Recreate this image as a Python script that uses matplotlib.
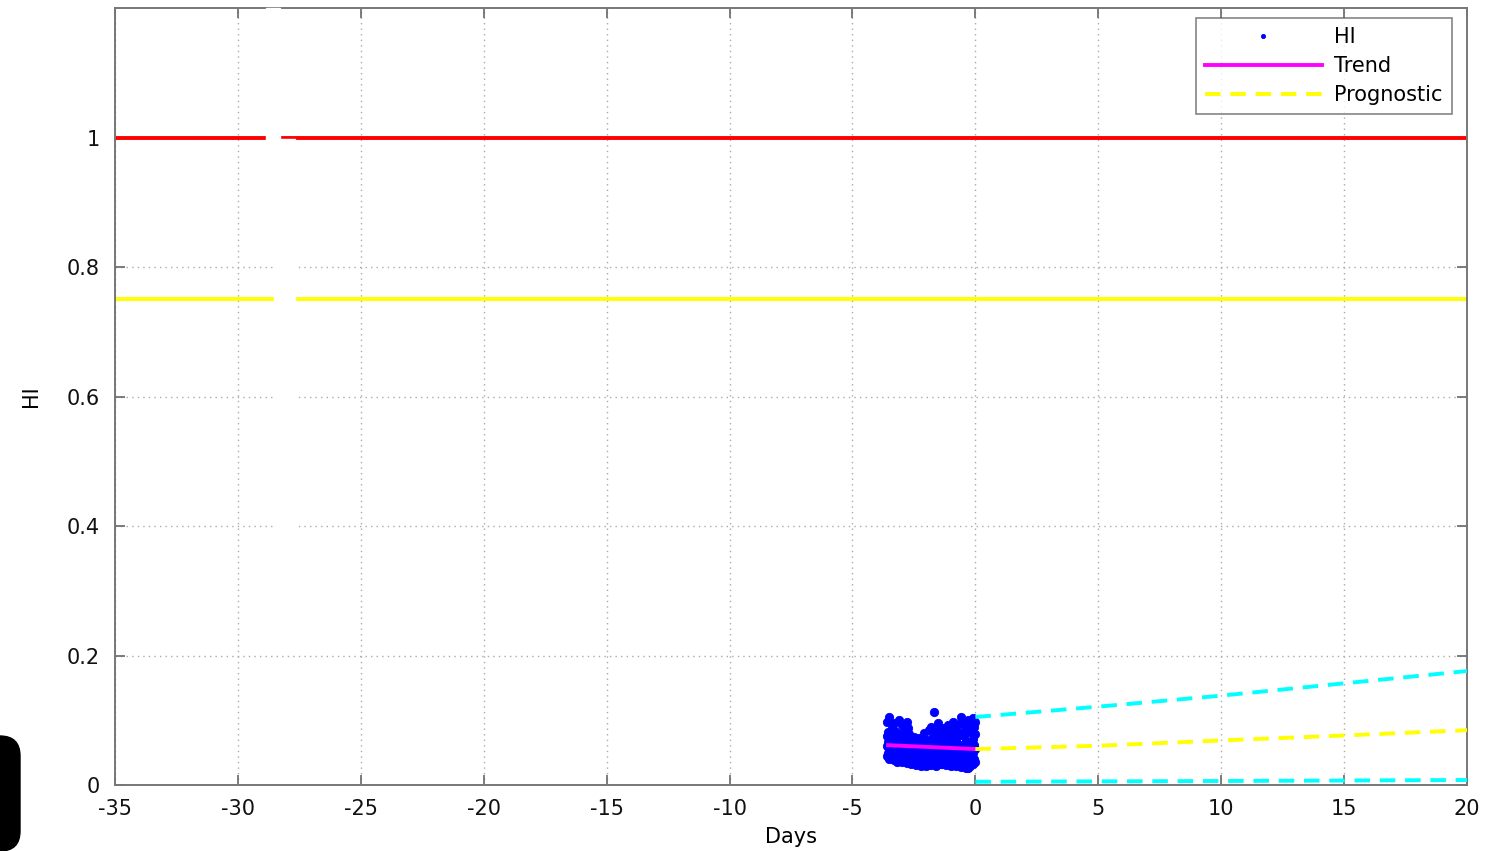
import numpy as np
import matplotlib
matplotlib.use("Agg")
import matplotlib.pyplot as plt
from matplotlib.patches import Rectangle, FancyBboxPatch

plt.rcParams['font.family'] = ['DejaVu Sans']

# ---- data ----
hi_cols_x = [-3.6, -3.5, -3.4, -3.3, -3.2, -3.1, -3.0, -2.9, -2.8, -2.7, -2.6, -2.5,
             -2.4, -2.3, -2.2, -2.1, -2.0, -1.9, -1.8, -1.7, -1.6, -1.5, -1.4, -1.3,
             -1.2, -1.1, -1.0, -0.9, -0.8, -0.7, -0.6, -0.5, -0.4, -0.3, -0.2, -0.1, 0.0]
hi_cols_y = [
    [0.045, 0.060, 0.075, 0.098], [0.040, 0.055, 0.070, 0.105], [0.042, 0.052, 0.066, 0.088],
    [0.038, 0.058, 0.072, 0.095], [0.036, 0.048, 0.063, 0.080], [0.040, 0.054, 0.068, 0.100],
    [0.035, 0.050, 0.061, 0.092], [0.037, 0.046, 0.058, 0.085], [0.034, 0.052, 0.065, 0.098],
    [0.040, 0.049, 0.060, 0.078], [0.033, 0.045, 0.057, 0.070], [0.036, 0.051, 0.062, 0.074],
    [0.031, 0.044, 0.055, 0.068], [0.035, 0.048, 0.059, 0.072], [0.030, 0.042, 0.053, 0.066],
    [0.033, 0.047, 0.060, 0.080], [0.029, 0.041, 0.056, 0.070], [0.034, 0.045, 0.058, 0.085],
    [0.031, 0.043, 0.054, 0.090], [0.033, 0.049, 0.061, 0.112], [0.030, 0.040, 0.057, 0.078],
    [0.035, 0.046, 0.055, 0.095], [0.032, 0.044, 0.062, 0.082], [0.036, 0.050, 0.059, 0.088],
    [0.031, 0.042, 0.056, 0.075], [0.034, 0.047, 0.063, 0.092], [0.030, 0.045, 0.058, 0.085],
    [0.033, 0.041, 0.060, 0.098], [0.029, 0.048, 0.066, 0.090], [0.032, 0.043, 0.057, 0.080],
    [0.028, 0.046, 0.062, 0.105], [0.031, 0.040, 0.055, 0.094], [0.027, 0.044, 0.068, 0.086],
    [0.026, 0.039, 0.059, 0.100], [0.030, 0.047, 0.064, 0.092], [0.033, 0.050, 0.071, 0.104],
    [0.036, 0.055, 0.078, 0.098]]
hi_fill_x = [-3.55, -3.45, -3.35, -3.25, -3.15, -3.05, -2.95, -2.85, -2.75, -2.65, -2.55,
             -2.45, -2.35, -2.25, -2.15, -2.05, -1.95, -1.85, -1.75, -1.65, -1.55, -1.45,
             -1.35, -1.25, -1.15, -1.05, -0.95, -0.85, -0.75, -0.65, -0.55, -0.45, -0.35,
             -0.25, -0.15, -0.05]
hi_fill_y = [
    [0.050, 0.066, 0.082], [0.047, 0.062, 0.078], [0.045, 0.060, 0.074], [0.043, 0.065, 0.084],
    [0.041, 0.057, 0.071], [0.044, 0.061, 0.076], [0.040, 0.055, 0.067], [0.039, 0.053, 0.072],
    [0.042, 0.058, 0.088], [0.037, 0.054, 0.066], [0.038, 0.050, 0.064], [0.035, 0.047, 0.060],
    [0.037, 0.052, 0.064], [0.034, 0.049, 0.062], [0.036, 0.051, 0.064], [0.033, 0.046, 0.062],
    [0.036, 0.050, 0.066], [0.035, 0.048, 0.062], [0.036, 0.052, 0.072], [0.034, 0.047, 0.068],
    [0.037, 0.051, 0.084], [0.035, 0.049, 0.070], [0.033, 0.047, 0.066], [0.036, 0.052, 0.080],
    [0.034, 0.050, 0.070], [0.037, 0.052, 0.078], [0.035, 0.051, 0.072], [0.037, 0.053, 0.086],
    [0.035, 0.051, 0.074], [0.033, 0.050, 0.094], [0.035, 0.052, 0.080], [0.032, 0.050, 0.076],
    [0.031, 0.052, 0.092], [0.034, 0.053, 0.082], [0.037, 0.058, 0.085], [0.040, 0.062, 0.090]]

trend_x = [-3.55, 0.0]
trend_y = [0.0615, 0.0555]

prog_x = [0, 5, 10, 15, 20]
prog_mid = [0.0555, 0.0606, 0.0688, 0.0765, 0.0847]
prog_upper = [0.105, 0.121, 0.138, 0.157, 0.176]
prog_lower = [0.0050, 0.0056, 0.0062, 0.0069, 0.0077]

alarm_level = 1.0
warning_level = 0.75

xticks = [-35, -30, -25, -20, -15, -10, -5, 0, 5, 10, 15, 20]
yticks = [0, 0.2, 0.4, 0.6, 0.8, 1.0]
ytick_labels = ['0', '0.2', '0.4', '0.6', '0.8', '1']

# ---- figure ----
fig = plt.figure(figsize=(15.12, 8.51), dpi=100)
ax = fig.add_axes([115/1512, 1-785/851, (1467-115)/1512, (785-8)/851])

hx, hy = [], []
for x, ys in zip(hi_cols_x, hi_cols_y):
    hx += [x]*len(ys); hy += ys
for x, ys in zip(hi_fill_x, hi_fill_y):
    hx += [x]*len(ys); hy += ys

ax.axhline(alarm_level, color='#ff0000', lw=2.8, zorder=2)
ax.axhline(warning_level, color='#ffff00', lw=2.8, zorder=2)

ax.plot(hx, hy, linestyle='none', marker='o', markersize=6, color='#0000ff',
        markeredgewidth=0.6, label='HI', zorder=3)
ax.plot(trend_x, trend_y, color='#ff00ff', lw=2.8, label='Trend', zorder=4)
ax.plot(prog_x, prog_mid, color='#ffff00', lw=2.8, ls=(0, (4, 2.5)), label='Prognostic', zorder=4)
ax.plot(prog_x, prog_upper, color='#00ffff', lw=2.8, ls=(0, (4, 2.5)), zorder=4)
ax.plot(prog_x, prog_lower, color='#00ffff', lw=2.8, ls=(0, (4, 2.5)), zorder=4)

ax.set_xlim(-35, 20)
ax.set_ylim(0, 1.2)
ax.set_xticks(xticks)
ax.set_xticklabels([str(t) for t in xticks])
ax.set_yticks(yticks)
ax.set_yticklabels(ytick_labels)
ax.tick_params(direction='in', length=7, width=1.2, color='#666666', labelsize=15,
               top=True, right=True, labelcolor='#111111')
ax.tick_params(axis='y', pad=11)
ax.tick_params(axis='x', pad=10)
for s in ax.spines.values():
    s.set_color('#777777'); s.set_linewidth(1.4)
ax.grid(True, color='#aaaaaa', ls=(0, (1, 3)), lw=1.0)
ax.set_axisbelow(True)

ax.set_xlabel('Days', fontsize=15, labelpad=6)
ax.set_ylabel('HI', fontsize=15, labelpad=18)

leg = ax.legend(loc='upper right', bbox_to_anchor=(0.989, 0.987), borderaxespad=0,
                fontsize=15, frameon=True, fancybox=False, edgecolor='#666666',
                handlelength=5.6, markerscale=0.5, handletextpad=0.6, labelspacing=0.42,
                borderpad=0.45)
leg.get_frame().set_linewidth(1.2)
leg.set_zorder(10)

# white rendering gaps seen in the reference
ax.add_patch(Rectangle((266, 851-140), 14, 132, transform=None, color='white', zorder=5,
                       clip_on=False))
ax.add_patch(Rectangle((274, 851-530), 21, 391, transform=None, color='white', zorder=5,
                       clip_on=False))
# dark rounded shape at lower-left edge
fig.patches.append(FancyBboxPatch((-30, 0), 50, 851-730-6, boxstyle='round,pad=0,rounding_size=20',
                                  transform=None, color='black', zorder=0))

fig.savefig('out.png', dpi=100)
